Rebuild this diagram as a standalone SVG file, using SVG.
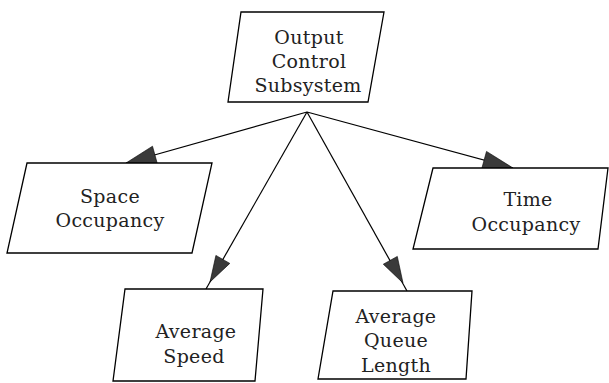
<svg xmlns="http://www.w3.org/2000/svg" width="609" height="383" viewBox="0 0 609 383">
<style>
.box{fill:#fff;stroke:#000;stroke-width:1.3;stroke-linejoin:miter}
.lbl{font-family:'DejaVu Serif','Liberation Serif',serif;font-size:19px;fill:#222;text-anchor:middle;letter-spacing:0.3px}
.conn{stroke:#000;stroke-width:1.2;fill:none}
.head{fill:#3a3a3a;stroke:#000;stroke-width:0.6}
</style>
<rect width="609" height="383" fill="#fff"/>
<g id="connectors">
<line class="conn" x1="307" y1="112" x2="126" y2="163"/>
<line class="conn" x1="307" y1="112" x2="513" y2="168"/>
<line class="conn" x1="307" y1="112" x2="206" y2="289"/>
<line class="conn" x1="307" y1="112" x2="407" y2="291"/>
<polygon class="head" points="126,163 157.3,163.6 152.5,146.2"/>
<polygon class="head" points="513,168 481.7,168.8 486.5,151.4"/>
<polygon class="head" points="210,282 229.8,263.4 215.9,255.4"/>
<polygon class="head" points="403,283 397.3,256.4 383.3,264.2"/>
</g>
<g id="output-control">
<polygon class="box" points="241,12 384,12 368,102 228,102"/>
<text class="lbl" x="309" y="44">Output</text>
<text class="lbl" x="309" y="68">Control</text>
<text class="lbl" x="308" y="92">Subsystem</text>
</g>
<g id="space-occupancy">
<polygon class="box" points="27,163 212,163 192,253 7,253"/>
<text class="lbl" x="110" y="203">Space</text>
<text class="lbl" x="110" y="227">Occupancy</text>
</g>
<g id="time-occupancy">
<polygon class="box" points="433,168 608,168 598,249 413,249"/>
<text class="lbl" x="528" y="206">Time</text>
<text class="lbl" x="526" y="231">Occupancy</text>
</g>
<g id="average-speed">
<polygon class="box" points="125,289 263,289 255,381 113,381"/>
<text class="lbl" x="196" y="338">Average</text>
<text class="lbl" x="194" y="363">Speed</text>
</g>
<g id="average-queue-length">
<polygon class="box" points="333,291 472,291 466,379 318,379"/>
<text class="lbl" x="396" y="323">Average</text>
<text class="lbl" x="396" y="347">Queue</text>
<text class="lbl" x="396" y="372">Length</text>
</g>
</svg>
